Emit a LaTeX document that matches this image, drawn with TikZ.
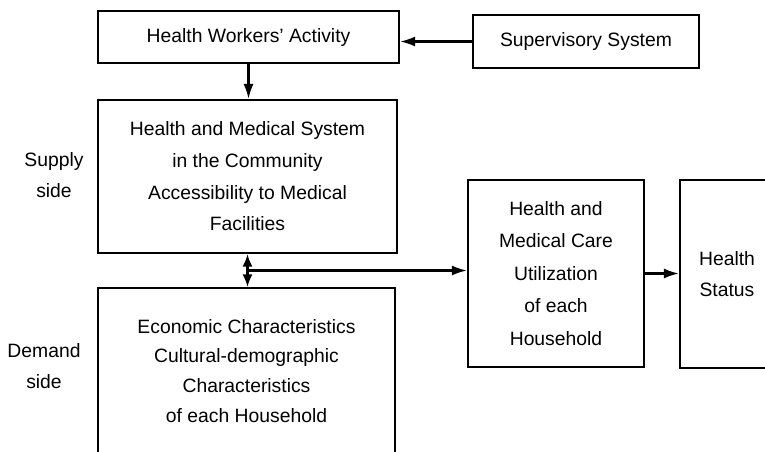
\documentclass[tikz,border=0pt]{standalone}
\usepackage{fontspec}
\setmainfont{Liberation Sans}
\usepackage{tikz}
\usetikzlibrary{calc}
\usetikzlibrary{arrows.meta}

\begin{document}
\begin{tikzpicture}[x=0.02cm,y=-0.02cm,
                    my box/.style={
                        draw,
                        line width=1.2pt,
                        align=center,
                        inner sep=0pt,
                        font=\fontsize{11}{18}\selectfont},
                    my label/.style={align=center, font=\fontsize{11}{18}\selectfont},
                    my tip/.tip={Latex[length=3mm,width=2mm]},
                    my arrow/.style={line width=1.2pt,-my tip}]
\useasboundingbox (0,0) rectangle (765,451); % page size
% boxes, placed by their centres
\node[my box, minimum width=301*0.02cm, minimum height=52*0.02cm] (workers) at (248.5,37) {Health Workers' Activity};
\node[my box, minimum width=226*0.02cm, minimum height=53*0.02cm] (supervision) at (586,41.5) {Supervisory System};
\node[my box, minimum width=299*0.02cm, minimum height=153*0.02cm] (supply) at (247.5,176.5) {Health and Medical System\\in the Community\\Accessibility to Medical\\Facilities};
\node[my box, minimum width=297*0.02cm, minimum height=166*0.02cm, font=\fontsize{11}{17}\selectfont] (demand) at (246.5,371) {Economic Characteristics\\Cultural-demographic\\Characteristics\\of each Household};
\node[my box, minimum width=176*0.02cm, minimum height=187*0.02cm, font=\fontsize{11}{18.5}\selectfont] (utilization) at (556,273.5) {Health and\\Medical Care\\Utilization\\of each\\Household};
\node[my box, minimum width=94*0.02cm, minimum height=188*0.02cm] (status) at (727,274) {Health\\Status};
% side labels
\node[my label] (supply label) at (54,175) {Supply\\side};
\node[my label] (demand label) at (44,366) {Demand\\side};
% connectors
\draw[my arrow] (supervision.west) -- (supervision.west -| workers.east);
\draw[my arrow] (workers.south) -- (workers.south |- supply.north);
\draw[my arrow,{Latex[length=2.5mm,width=2mm]}-{Latex[length=2.5mm,width=2mm]}] (supply.south) -- coordinate[pos=0.5] (split) (supply.south |- demand.north); % two way link
\draw[my arrow] (split) -- (split -| utilization.west);
\draw[my arrow] (utilization.east) -- (utilization.east -| status.west);
\end{tikzpicture}
\end{document}
